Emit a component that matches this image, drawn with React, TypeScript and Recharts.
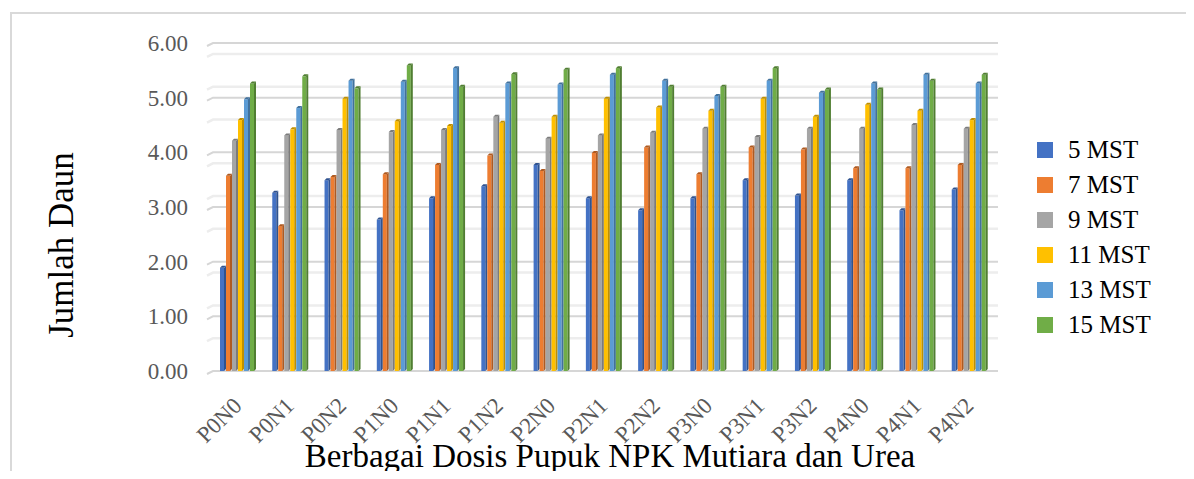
import { Bar, BarChart, CartesianGrid, Label, Legend, XAxis, YAxis } from "recharts";

const categories = [
  "P0N0", "P0N1", "P0N2", "P1N0", "P1N1", "P1N2", "P2N0", "P2N1",
  "P2N2", "P3N0", "P3N1", "P3N2", "P4N0", "P4N1", "P4N2",
];
const mst5 = [1.89, 3.26, 3.49, 2.77, 3.16, 3.38, 3.77, 3.16, 2.94, 3.16, 3.49, 3.21, 3.49, 2.94, 3.32];
const mst7 = [3.57, 2.65, 3.55, 3.6, 3.77, 3.94, 3.66, 3.99, 4.09, 3.6, 4.09, 4.05, 3.71, 3.71, 3.77];
const mst9 = [4.21, 4.31, 4.41, 4.37, 4.41, 4.65, 4.25, 4.31, 4.36, 4.43, 4.28, 4.43, 4.43, 4.5, 4.43];
const mst11 = [4.59, 4.42, 4.98, 4.57, 4.48, 4.54, 4.65, 4.98, 4.82, 4.76, 4.98, 4.65, 4.87, 4.76, 4.59];
const mst13 = [4.97, 4.81, 5.31, 5.29, 5.54, 5.26, 5.24, 5.42, 5.31, 5.03, 5.31, 5.09, 5.26, 5.42, 5.26];
const mst15 = [5.26, 5.39, 5.17, 5.59, 5.2, 5.43, 5.51, 5.54, 5.2, 5.2, 5.54, 5.15, 5.15, 5.31, 5.42];

const majorTicks = [0, 1, 2, 3, 4, 5, 6];
const minorTicks = [
  0.2, 0.4, 0.6, 0.8, 1.2, 1.4, 1.6, 1.8, 2.2, 2.4, 2.6, 2.8, 3.2, 3.4, 3.6, 3.8,
  4.2, 4.4, 4.6, 4.8, 5.2, 5.4, 5.6, 5.8,
];

const series = [
  { key: "s5", name: "5 MST", values: mst5, fill: "#4472C4", side: "#2F528F" },
  { key: "s7", name: "7 MST", values: mst7, fill: "#ED7D31", side: "#AE5A21" },
  { key: "s9", name: "9 MST", values: mst9, fill: "#A5A5A5", side: "#7B7B7B" },
  { key: "s11", name: "11 MST", values: mst11, fill: "#FFC000", side: "#BF9000" },
  { key: "s13", name: "13 MST", values: mst13, fill: "#5B9BD5", side: "#41719C" },
  { key: "s15", name: "15 MST", values: mst15, fill: "#70AD47", side: "#507E32" },
];

const data = categories.map((cat, i) => {
  const row: Record<string, string | number> = { cat };
  series.forEach((s) => {
    row[s.key] = s.values[i];
  });
  return row;
});

const FONT = "'Liberation Serif', 'Times New Roman', serif";
const LEGEND_W = 150;

function Column3D(props: any) {
  const { x, y, width, height, fill, side } = props;
  if (!height || height <= 0) return null;
  const d = 2;
  const fw = width - d;
  return (
    <g>
      <rect x={x} y={y} width={fw} height={height} fill={fill} />
      <polygon
        points={`${x + fw},${y} ${x + width},${y - d} ${x + width},${y + height - d} ${x + fw},${y + height}`}
        fill={side}
      />
      <polygon
        points={`${x},${y} ${x + d},${y - d} ${x + width},${y - d} ${x + fw},${y}`}
        fill={side}
      />
    </g>
  );
}

function gridLine(color: string, w: number) {
  return (p: any) => (
    <path
      key={p.key ?? `${p.y1}`}
      d={`M${p.x1 - 5},${p.y1 + 3} L${p.x1 + 1},${p.y1} L${p.x2 + 2},${p.y1}`}
      stroke={color}
      strokeWidth={w}
      fill="none"
    />
  );
}

function CategoryTick(props: any) {
  const { x, y, payload } = props;
  return (
    <text
      transform={`translate(${x + 5},${y + 28}) rotate(-45)`}
      textAnchor="end"
      fontFamily={FONT}
      fontSize={23}
      fill="#595959"
    >
      {payload.value}
    </text>
  );
}

function LegendList() {
  return (
    <div style={{ fontFamily: FONT, fontSize: 25, color: "#000" }}>
      {series.map((s) => (
        <div key={s.key} style={{ display: "flex", alignItems: "center", height: 35 }}>
          <span style={{ width: 16, height: 16, background: s.fill, display: "inline-block", marginRight: 15 }} />
          <span>{s.name}</span>
        </div>
      ))}
    </div>
  );
}

export default function App() {
  return (
    <div
      style={{
        position: "relative",
        width: 1194,
        height: 479,
        margin: -8,
        overflow: "hidden",
        background: "#fff",
      }}
    >
      <div
        style={{
          position: "absolute",
          left: 157,
          top: -22,
          fontFamily: FONT,
          fontSize: 27,
          lineHeight: "34px",
          color: "#000",
        }}
      >
        Urea.
      </div>
      <div
        style={{
          position: "absolute",
          left: 10,
          top: 12,
          width: 1200,
          height: 480,
          borderLeft: "2px solid #d9d9d9",
          borderTop: "2px solid #d9d9d9",
        }}
      />
      <div style={{ position: "absolute", left: 0, top: 0 }}>
        <BarChart
          width={1194}
          height={479}
          data={data}
          margin={{ top: 43, right: 198 - LEGEND_W, bottom: 0, left: 0 }}
          barCategoryGap={8}
          barGap={0}
        >
          <CartesianGrid vertical={false} horizontalValues={minorTicks} horizontal={gridLine("#ededed", 2.5)} />
          <CartesianGrid vertical={false} horizontalValues={majorTicks} horizontal={gridLine("#d6d6d6", 2)} />
          <XAxis
            dataKey="cat"
            axisLine={false}
            tickLine={false}
            interval={0}
            tick={<CategoryTick />}
            height={108}
          >
            <Label
              content={(p: any) => (
                <text
                  x={p.viewBox.x + p.viewBox.width / 2 + 6}
                  y={467}
                  textAnchor="middle"
                  fontFamily={FONT}
                  fontSize={33}
                  fill="#000"
                >
                  Berbagai Dosis Pupuk NPK Mutiara dan Urea
                </text>
              )}
            />
          </XAxis>
          <YAxis
            domain={[0, 6]}
            ticks={majorTicks}
            tickFormatter={(v: number) => v.toFixed(2)}
            axisLine={false}
            tickLine={false}
            tickSize={0}
            tickMargin={24}
            width={212}
            tick={{ fontFamily: FONT, fontSize: 23, fill: "#595959" }}
          >
            <Label
              content={() => (
                <text
                  transform="translate(61,245) rotate(-90)"
                  textAnchor="middle"
                  dominantBaseline="central"
                  fontFamily={FONT}
                  fontSize={35}
                  fill="#000"
                >
                  Jumlah Daun
                </text>
              )}
            />
          </YAxis>
          <Legend
            layout="vertical"
            align="right"
            verticalAlign="top"
            wrapperStyle={{ left: 1037, top: 132, width: LEGEND_W }}
            content={() => <LegendList />}
          />
          {series.map((s) => (
            <Bar
              key={s.key}
              dataKey={s.key}
              name={s.name}
              fill={s.fill}
              isAnimationActive={false}
              shape={(p: any) => <Column3D {...p} side={s.side} />}
            />
          ))}
        </BarChart>
      </div>
    </div>
  );
}
